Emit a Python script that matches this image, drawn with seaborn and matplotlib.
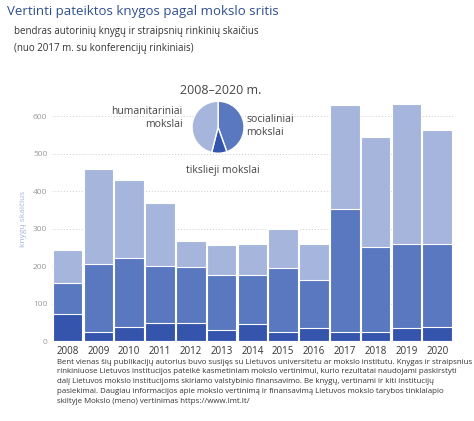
import matplotlib
matplotlib.use("Agg")
import matplotlib.pyplot as plt
import seaborn as sns
import pandas as pd
import numpy as np

years = [str(y) for y in range(2008, 2021)]
tikslieji = [73, 25, 38, 48, 48, 30, 45, 25, 35, 25, 25, 35, 38]
socialiniai = [82, 180, 184, 152, 150, 145, 130, 170, 127, 327, 227, 225, 220]
humanitariniai = [88, 255, 208, 168, 69, 82, 83, 103, 96, 278, 293, 372, 305]

c_dark, c_mid, c_light = "#3555ad", "#5a78c0", "#a5b5dc"

sns.set_theme(style="white")
plt.rcParams['font.family'] = ['Open Sans', 'DejaVu Sans']
fig = plt.figure(figsize=(4.74, 4.21), dpi=100)
ax = fig.add_axes([0.11, 0.19, 0.845, 0.578])

df = pd.DataFrame({"year": years, "t": tikslieji, "s": socialiniai, "h": humanitariniai})
df["ts"] = df["t"] + df["s"]
df["tot"] = df["ts"] + df["h"]
kw = dict(width=0.96, edgecolor="white", linewidth=0.8, ax=ax, legend=False)
sns.barplot(data=df, x="year", y="tot", color=c_light, saturation=1, **kw)
sns.barplot(data=df, x="year", y="ts", color=c_mid, saturation=1, **kw)
sns.barplot(data=df, x="year", y="t", color=c_dark, saturation=1, **kw)

ax.set_ylim(0, 650)
ax.set_xlim(-0.5, 12.5)
ax.set_yticks([0, 100, 200, 300, 400, 500, 600])
ax.tick_params(axis='y', labelsize=6, colors="#999999", length=0)
ax.tick_params(axis='x', labelsize=7, colors="#333333", length=0)
ax.yaxis.grid(True, linestyle=(0, (1, 2)), color="#cccccc", linewidth=0.7)
ax.set_axisbelow(True)
for s in ax.spines.values():
    s.set_visible(False)
ax.set_xlabel("")
ax.set_ylabel("knygų skaičius", fontsize=6, color="#a5b5dc")

fig.text(0.015, 0.965, "Vertinti pateiktos knygos pagal mokslo sritis", fontsize=9.5, color="#2f4f8f")
fig.text(0.03, 0.92, "bendras autorinių knygų ir straipsnių rinkinių skaičius", fontsize=7, color="#333333")
fig.text(0.03, 0.88, "(nuo 2017 m. su konferencijų rinkiniais)", fontsize=7, color="#333333")

pax = fig.add_axes([0.405, 0.636, 0.11, 0.1235])
sizes = [sum(socialiniai), sum(tikslieji), sum(humanitariniai)]
pax.pie(sizes, colors=[c_mid, c_dark, c_light], startangle=90, counterclock=False, radius=1.0)
pax.set_xlim(-1, 1)
pax.set_ylim(-1, 1)
fig.text(0.465, 0.786, "2008–2020 m.", fontsize=9, color="#444444", ha="center", va="center")
fig.text(0.385, 0.72, "humanitariniai\nmokslai", fontsize=7.5, color="#444444", ha="right", va="center", linespacing=1.2)
fig.text(0.52, 0.70, "socialiniai\nmokslai", fontsize=7.5, color="#444444", ha="left", va="center", linespacing=1.2)
fig.text(0.47, 0.594, "tikslieji mokslai", fontsize=7.5, color="#444444", ha="center", va="center")

fig.text(0.12, 0.148, "Bent vienas šių publikacijų autorius buvo susijęs su Lietuvos universitetu ar mokslo institutu. Knygas ir straipsnius\n"
         "rinkiniuose Lietuvos institucijos pateikė kasmetiniam mokslo vertinimui, kurio rezultatai naudojami paskirstyti\n"
         "dalį Lietuvos mokslo institucijoms skiriamo valstybinio finansavimo. Be knygų, vertinami ir kiti institucijų\n"
         "pasiekimai. Daugiau informacijos apie mokslo vertinimą ir finansavimą Lietuvos mokslo tarybos tinklalapio\n"
         "skiltyje Mokslo (meno) vertinimas https://www.lmt.lt/",
         fontsize=5.7, color="#333333", va="top", linespacing=1.55)

fig.savefig("out.png", dpi=100)
